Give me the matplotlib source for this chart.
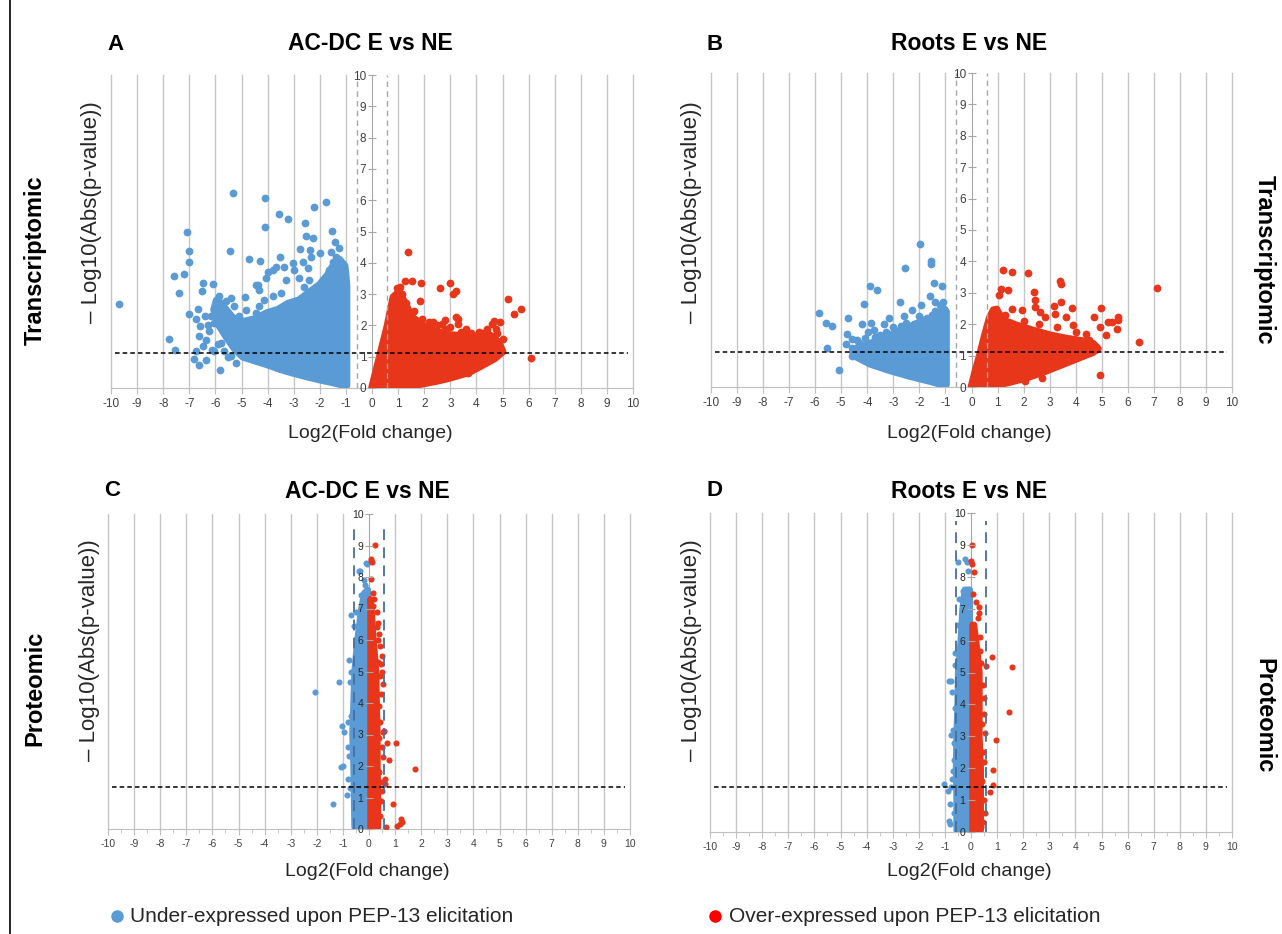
import matplotlib
matplotlib.use("Agg")
import matplotlib.pyplot as plt
from matplotlib.lines import Line2D
from matplotlib.ticker import MultipleLocator
from matplotlib import font_manager

# ---------------- data ----------------
# dense cores of each cloud are given as outlines (centres of the border dots),
# the scattered genes / proteins as single points

# A : transcriptomic, AC-DC
a_down_core_x = [-0.98, -0.98, -1.05, -1.25, -1.45, -1.7, -2.0, -2.4, -2.8, -3.2, -3.6, -4.0, -4.5, -5.0,
                 -5.35, -5.7, -5.95, -6.05, -5.85, -5.55, -5.25, -4.95, -4.5, -4.0, -3.5, -3.0, -2.5, -2.0, -1.5, -1.1]
a_down_core_y = [0.08, 3.3, 3.9, 4.1, 3.95, 3.6, 3.3, 3.05, 2.8, 2.7, 2.5, 2.4, 2.2, 2.1,
                 2.25, 2.6, 2.8, 2.5, 2.0, 1.6, 1.25, 1.0, 0.88, 0.75, 0.6, 0.48, 0.37, 0.27, 0.18, 0.1]
a_down_x = [-9.68, -5.31, -4.09, -4.09, -3.55, -3.21, -2.22, -1.76, -2.57, -2.53, -2.27, -1.52, -7.10, -7.00,
            -7.02, -7.19, -7.60, -7.39, -5.45, -4.73, -4.30, -7.79, -7.56, -6.83, -6.64, -6.36, -5.82, -5.53,
            -5.21, -4.88, -7.00, -6.76, -6.67, -6.39, -6.49, -6.08, -6.51, -6.36, -6.23, -5.91, -6.13, -2.76,
            -2.38, -1.99, -2.34, -3.53, -3.04, -2.66, -4.00, -3.68, -4.37, -1.57, -1.40,
            -4.44, -4.32, -4.06, -3.81, -3.36, -3.30, -2.98, -2.78, -2.59, -2.46, -3.49, -3.81, -4.12, -4.32,
            -4.44, -4.83, -5.08, -5.27, -5.40, -5.59, -5.85, -5.79, -5.98, -6.17, -6.04, -6.30, -6.59, -6.62,
            -6.49, -6.74, -6.04, -5.79, -5.66, -5.40, -2.15, -1.89, -1.63, -1.51, -1.38, -1.25, -2.40, -3.10,
            -3.42, -4.32, -4.64, -4.57, -4.96]
a_down_y = [2.69, 6.24, 6.07, 5.14, 5.55, 5.40, 5.77, 5.94, 5.28, 4.85, 4.80, 5.01, 4.97, 4.38,
            4.01, 3.63, 3.59, 3.03, 4.39, 4.12, 4.06, 1.56, 1.22, 0.94, 0.73, 0.88, 0.59, 0.98,
            0.80, 2.90, 2.37, 2.19, 2.52, 2.29, 3.35, 3.33, 3.09, 1.54, 1.81, 1.41, 1.22, 4.44,
            4.40, 4.31, 4.17, 4.18, 4.00, 4.01, 3.72, 3.88, 3.29, 4.36, 4.65,
            3.30, 3.14, 3.51, 3.78, 3.88, 3.46, 3.78, 3.51, 3.24, 3.83, 3.03, 2.93, 2.82, 2.61,
            2.39, 2.50, 2.29, 2.61, 2.87, 2.77, 2.93, 2.71, 2.50, 2.29, 2.07, 2.02, 1.97, 1.65,
            1.33, 1.17, 1.17, 1.44, 1.17, 1.01, 3.09, 3.46, 3.78, 4.04, 4.20, 4.47, 3.46, 2.71,
            2.50, 1.97, 2.13, 1.76, 1.97]
a_up_core_x = [0.0, 0.15, 0.3, 0.45, 0.6, 0.72, 0.82, 0.95, 1.1, 1.3, 1.5, 2.0, 2.5, 3.0, 3.5, 4.0, 4.3,
               4.6, 4.85, 5.0, 4.7, 4.2, 3.7, 3.0, 2.5, 2.0, 1.5, 1.0, 0.4]
a_up_core_y = [0.0, 0.5, 1.0, 1.5, 2.0, 2.5, 2.9, 3.0, 2.95, 2.65, 2.28, 1.96, 1.8, 1.69, 1.66, 1.64, 1.75,
               1.65, 1.45, 1.16, 0.95, 0.72, 0.5, 0.33, 0.23, 0.15, 0.07, 0.03, 0.0]
a_up_x = [1.38, 1.27, 1.55, 1.88, 2.61, 2.97, 3.21, 3.12, 1.83, 1.06, 5.20, 5.71, 5.43, 6.10, 3.23, 3.31,
          2.80, 2.70, 2.34, 2.01, 4.67, 4.91, 4.59, 4.74, 5.0, 4.46, 3.69, 1.78, 1.55, 1.3, 1.6, 1.9, 2.2,
          2.5, 3.0, 3.4, 3.8, 4.1, 4.4, 4.8, 2.8, 3.6, 3.3, 4.2, 1.15, 0.95, 1.05]
a_up_y = [4.35, 3.41, 3.43, 3.36, 3.21, 3.34, 3.10, 3.0, 2.78, 3.23, 2.84, 2.52, 2.35, 0.95, 2.28, 2.2,
          2.17, 2.06, 2.12, 1.98, 2.15, 2.12, 2.06, 1.9, 1.56, 1.74, 0.49, 1.87, 2.17, 2.7, 2.45, 2.2, 2.1,
          2.0, 1.95, 1.8, 1.75, 1.8, 1.9, 1.75, 1.9, 1.9, 2.05, 1.65, 3.0, 3.2, 2.9]

# B : transcriptomic, roots
b_down_core_x = [-0.98, -0.98, -1.1, -1.33, -1.84, -2.36, -2.87, -3.38, -3.89, -4.34, -4.55, -4.40, -3.89,
                 -3.12, -2.36, -1.59, -1.1]
b_down_core_y = [0.08, 2.4, 2.45, 2.23, 2.12, 1.91, 1.75, 1.54, 1.38, 1.27, 1.1, 0.96, 0.74,
                 0.53, 0.35, 0.19, 0.08]
b_down_x = [-5.87, -5.60, -5.37, -5.55, -5.09, -4.73, -4.79, -4.58, -4.57, -4.81, -3.89, -3.61, -4.11, -4.21,
            -3.85, -3.99, -3.17, -2.74, -2.55, -1.97, -1.55, -1.54, -1.43, -1.13, -1.93, -1.61, -1.41, -2.28,
            -2.61, -3.35, -3.76, -1.08, -1.41, -4.39, -1.2, -1.5, -1.7, -2.0, -2.2, -2.5, -2.7, -3.0, -3.3,
            -3.5, -3.7, -4.1, -4.3, -4.6, -4.45, -1.05]
b_down_y = [2.36, 2.04, 1.94, 1.25, 0.55, 2.21, 1.70, 1.52, 1.0, 1.38, 3.21, 3.10, 2.65, 2.02,
            2.05, 1.76, 2.21, 2.70, 3.80, 4.56, 4.01, 3.93, 3.32, 3.21, 2.61, 2.89, 2.72, 2.46,
            2.25, 2.02, 1.80, 2.70, 2.43, 1.51, 2.6, 2.3, 2.2, 2.25, 2.0, 2.05, 1.95, 1.9, 1.75,
            1.65, 1.6, 1.55, 1.4, 1.25, 1.2, 2.5]
b_up_core_x = [0.0, 0.15, 0.32, 0.5, 0.7, 0.85, 1.0, 1.22, 1.73, 2.36, 3.0, 3.64, 4.28, 4.66, 4.85, 4.66,
               4.02, 3.39, 2.75, 2.11, 1.47, 0.83, 0.3]
b_up_core_y = [0.0, 0.5, 1.0, 1.6, 2.2, 2.45, 2.4, 2.12, 1.96, 1.8, 1.65, 1.54, 1.46, 1.38, 1.22, 1.11,
               0.9, 0.69, 0.48, 0.30, 0.16, 0.05, 0.0]
b_up_x = [1.22, 1.54, 2.16, 3.41, 3.42, 1.13, 1.42, 1.06, 2.39, 2.43, 2.43, 3.45, 3.17, 3.87, 4.99, 4.72,
          5.62, 5.63, 5.38, 5.23, 5.57, 5.15, 4.92, 6.42, 7.11, 4.95, 2.05, 2.72, 1.54, 1.92, 2.62, 2.81,
          3.19, 3.64, 3.90, 4.02, 4.41, 1.3, 2.0, 2.6, 3.3, 4.5, 0.95]
b_up_y = [3.72, 3.66, 3.63, 3.38, 3.29, 3.13, 3.10, 2.93, 3.04, 2.76, 2.55, 2.71, 2.58, 2.53, 2.53, 2.23,
          2.23, 2.14, 2.07, 2.06, 1.84, 1.65, 1.91, 1.43, 3.14, 0.37, 0.19, 0.29, 2.49, 2.44, 2.39, 2.23,
          2.34, 2.23, 1.96, 1.75, 1.70, 2.3, 2.1, 2.0, 1.9, 1.5, 2.5]

# C : proteomic, AC-DC
c_down_core_x = [-0.04, -0.04, -0.18, -0.3, -0.45, -0.56, -0.6, -0.64, -0.6, -0.58, -0.56]
c_down_core_y = [0.05, 7.6, 7.5, 7.0, 6.0, 5.0, 4.0, 3.0, 2.0, 1.0, 0.05]
c_down_x = [-2.06, -1.14, -1.39, -1.04, -0.94, -1.08, -1.0, -0.82, -0.76, -0.72, -0.82, -0.06, -0.38, -0.34,
            -0.14, -0.32, -0.51, -0.70, -0.57, -0.75, -0.85, -0.1, -0.2, -0.72, -0.8, -0.7, -0.68]
c_down_y = [4.36, 4.68, 0.79, 3.28, 3.09, 1.96, 2.01, 1.59, 5.36, 4.66, 3.41, 8.42, 8.18, 8.2,
            7.76, 7.42, 6.89, 6.78, 6.46, 2.33, 1.08, 8.45, 7.9, 1.3, 2.6, 3.6, 5.0]
c_up_core_x = [0.05, 0.05, 0.1, 0.18, 0.28, 0.3, 0.33, 0.33, 0.35, 0.35]
c_up_core_y = [0.05, 7.3, 7.0, 6.0, 5.0, 4.0, 3.0, 2.0, 1.0, 0.05]
c_up_x = [0.22, 0.09, 0.13, 0.06, 0.09, 0.14, 0.16, 0.34, 0.70, 1.04, 1.78, 0.75, 0.61, 0.92, 1.23, 1.18,
          1.08, 1.25, 0.67, 0.52, 0.58, 0.42, 0.5, 0.45, 0.55, 0.6, 0.55, 0.5, 0.4, 0.3, 0.2,
          0.42, 0.46, 0.4, 0.48, 0.44, 0.38, 0.45, 0.5, 0.42, 0.36, 0.47, 0.4, 0.3, 0.33]
c_up_y = [9.03, 8.58, 8.47, 8.5, 7.94, 7.5, 7.08, 6.55, 2.73, 2.73, 1.91, 2.19, 1.43, 0.78, 0.32, 0.16,
          0.11, 0.22, 0.05, 3.07, 3.1, 4.87, 5.0, 5.25, 4.6, 1.6, 2.3, 1.2, 6.2, 6.9, 7.3,
          0.4, 0.9, 1.8, 2.6, 3.4, 3.9, 4.3, 5.5, 5.8, 6.0, 1.5, 2.9, 6.4, 5.3]

# D : proteomic, roots
d_down_core_x = [-0.04, -0.04, -0.24, -0.33, -0.4, -0.5, -0.52, -0.56, -0.58, -0.56, -0.56]
d_down_core_y = [0.05, 7.6, 7.6, 7.0, 6.0, 5.0, 4.0, 3.0, 2.0, 1.0, 0.05]
d_down_x = [-0.23, -0.51, -0.16, -0.1, -0.29, -0.84, -0.76, -0.71, -0.63, -0.76, -0.70, -1.05, -0.89, -0.78,
            -0.80, -0.86, -0.82, -0.71, -0.67, -0.45, -0.5, -0.6, -0.66, -0.64, -0.62, -0.68]
d_down_y = [8.55, 8.45, 8.45, 8.19, 7.56, 4.74, 4.72, 4.40, 5.25, 3.05, 3.2, 1.49, 1.30, 1.4,
            0.89, 0.36, 0.26, 1.67, 2.26, 7.3, 6.5, 5.6, 0.6, 2.8, 3.9, 1.9]
d_up_core_x = [0.05, 0.05, 0.12, 0.26, 0.33, 0.33, 0.38, 0.38]
d_up_core_y = [0.05, 6.5, 6.5, 5.6, 5.0, 3.0, 2.0, 0.05]
d_up_x = [0.03, 0.0, 0.04, 0.13, 0.08, 0.32, 0.32, 0.79, 0.56, 1.57, 1.45, 0.94, 0.85, 0.85, 0.71, 0.34,
          0.2, 0.25, 0.5, 0.55, 0.55, 0.4, 0.45, 0.46, 0.5, 0.44, 0.48, 0.42, 0.5, 0.46, 0.4, 0.36]
d_up_y = [9.0, 8.5, 8.4, 8.15, 7.46, 7.06, 6.86, 5.50, 5.19, 5.16, 3.76, 2.89, 1.93, 1.48, 1.25, 5.68,
          7.2, 6.7, 4.2, 3.1, 0.6, 0.15, 2.5, 0.3, 1.0, 1.6, 2.2, 3.4, 3.7, 4.6, 5.3, 6.1]

# significance threshold (-log10 p) and fold-change cut-off of each panel
thresholds = [1.12, 1.12, 1.32, 1.41]
fc_cut = 0.585

titles = ["AC-DC E vs NE", "Roots E vs NE", "AC-DC E vs NE", "Roots E vs NE"]
letters = ["A", "B", "C", "D"]

# ---------------- style ----------------
names = set(font_manager.get_font_names())
SANS = "Liberation Sans" if "Liberation Sans" in names else "DejaVu Sans"
NARROW = "Liberation Sans Narrow" if "Liberation Sans Narrow" in names else SANS
plt.rcParams["font.family"] = [SANS, "DejaVu Sans"]
plt.rcParams["axes.unicode_minus"] = False

BLUE = "#5b9bd5"
RED = "#e8361a"
GRID = "#c6c6c6"
TXT = "#404040"

W, H = 1282, 934
fig = plt.figure(figsize=(W / 100, H / 100), dpi=100)


def fx(px):
    return px / W


def fy(py):
    return 1 - py / H


# axes boxes in pixels: left, right, top(y=10), bottom(y=0)
boxes = [(111, 633, 75, 388), (711, 1232, 73, 387), (108, 630, 514, 829), (710, 1232, 513, 832)]

panels = [
    (a_down_core_x, a_down_core_y, a_down_x, a_down_y, a_up_core_x, a_up_core_y, a_up_x, a_up_y),
    (b_down_core_x, b_down_core_y, b_down_x, b_down_y, b_up_core_x, b_up_core_y, b_up_x, b_up_y),
    (c_down_core_x, c_down_core_y, c_down_x, c_down_y, c_up_core_x, c_up_core_y, c_up_x, c_up_y),
    (d_down_core_x, d_down_core_y, d_down_x, d_down_y, d_up_core_x, d_up_core_y, d_up_x, d_up_y),
]

for i, (box, data) in enumerate(zip(boxes, panels)):
    l, r, t, b = box
    ax = fig.add_axes([fx(l), fy(b), (r - l) / W, (b - t) / H])
    ax.set_xlim(-10, 10)
    ax.set_ylim(0, 10)
    prot = i >= 2
    dot = 4.4 if prot else 5.6  # marker diameter in points

    # vertical grid
    for v in range(-10, 11):
        if v != 0:
            ax.axvline(v, color=GRID, lw=1.0, zorder=0, clip_on=False)

    cdx, cdy, pdx, pdy, cux, cuy, pux, puy = data
    ax.fill(cdx, cdy, facecolor=BLUE, edgecolor=BLUE, lw=dot, joinstyle="round", zorder=3)
    ax.scatter(pdx, pdy, s=dot ** 2, color=BLUE, lw=0, zorder=3)
    ax.fill(cux, cuy, facecolor=RED, edgecolor=RED, lw=dot, joinstyle="round", zorder=4)
    ax.scatter(pux, puy, s=dot ** 2, color=RED, lw=0, zorder=4)

    # cut-off lines
    if prot:
        ax.vlines([-fc_cut, fc_cut], 0, 9.75, colors="#45709c", lw=1.3, linestyles=(0, (6, 4)), zorder=5)
    else:
        ax.vlines([-fc_cut, fc_cut], 0, 10, colors="#a6a6a6", lw=1.0, linestyles=(0, (4, 3)), zorder=5)
    ax.hlines(thresholds[i], -9.85, 9.8, colors="black", lw=1.1, linestyles=(0, (3, 2)), zorder=6)

    # axes look (Excel style, y axis crossing at 0)
    for s in ["top", "right"]:
        ax.spines[s].set_visible(False)
    ax.spines["left"].set_position(("data", 0))
    ax.spines["left"].set_color("#a6a6a6")
    ax.spines["bottom"].set_color("#bfbfbf")
    ax.spines["left"].set_zorder(2)
    ax.yaxis.set_zorder(7)
    ax.set_xticks(range(-10, 11))
    ax.set_yticks(range(0, 11))
    fs = 7.5 if prot else 8.5
    ax.tick_params(axis="x", direction="out", length=4, color="#bfbfbf", labelsize=fs,
                   labelcolor=TXT, pad=3)
    ax.tick_params(axis="y", direction="inout", length=6, color="#a6a6a6", labelsize=fs,
                   labelcolor=TXT if not prot else "#262626", pad=1)
    if prot:
        ax.xaxis.set_minor_locator(MultipleLocator(0.5))
        ax.tick_params(axis="x", which="minor", direction="out", length=3, color="#bfbfbf")
    for lab in ax.get_xticklabels() + ax.get_yticklabels():
        lab.set_family(NARROW)
    ax.set_facecolor("none")

    cx = (l + r) / 2 - 2
    ty = 44 if i < 2 else 491
    fig.text(fx(cx), fy(ty), titles[i], ha="center", va="center", fontsize=16.5, fontweight="bold")
    fig.text(fx(l + 4), fy(ty), letters[i], ha="center", va="center", fontsize=16, fontweight="bold")
    fig.text(fx(cx), fy(434 if i < 2 else 871), "Log2(Fold change)", ha="center", va="center",
             fontsize=14, color="#262626")
    fig.text(fx(l - 19), fy(212 if i < 2 else 650), "\u2013 Log10(Abs(p-value))", ha="center",
             va="center", rotation=90, fontsize=16, color="#262626")

# row labels
fig.text(fx(35), fy(260), "Transcriptomic", rotation=90, ha="center", va="center", fontsize=17,
         fontweight="bold")
fig.text(fx(1264), fy(260), "Transcriptomic", rotation=-90, ha="center", va="center", fontsize=17,
         fontweight="bold")
fig.text(fx(35), fy(688), "Proteomic", rotation=90, ha="center", va="center", fontsize=17,
         fontweight="bold")
fig.text(fx(1264), fy(716), "Proteomic", rotation=-90, ha="center", va="center", fontsize=17,
         fontweight="bold")

# left border line
fig.add_artist(Line2D([fx(10), fx(10)], [0, 1], color="black", lw=1.2))

# legend
fig.add_artist(Line2D([fx(117)], [fy(916)], marker="o", ms=8, color=BLUE, lw=0))
fig.text(fx(130), fy(916), "Under-expressed upon PEP-13 elicitation", ha="left", va="center",
         fontsize=15, color="#262626")
fig.add_artist(Line2D([fx(715)], [fy(916)], marker="o", ms=8, color="#ff0000", lw=0))
fig.text(fx(729), fy(916), "Over-expressed upon PEP-13 elicitation", ha="left", va="center",
         fontsize=15, color="#262626")

fig.savefig("out.png", dpi=100)
